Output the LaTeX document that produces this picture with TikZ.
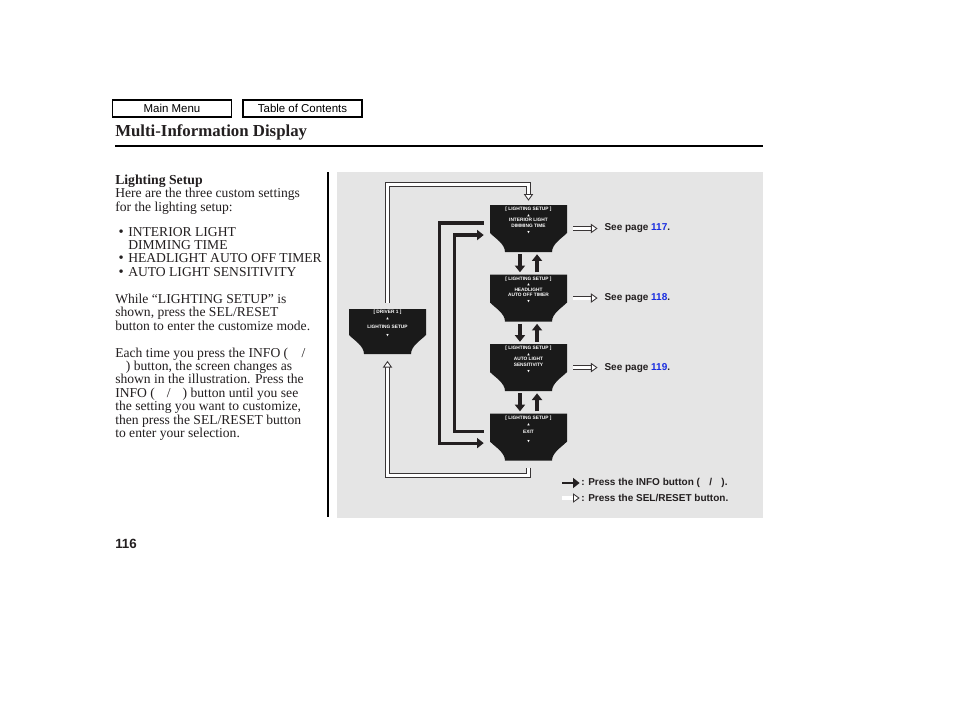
\documentclass[tikz,border=0pt]{standalone}
\usepackage{fontspec}
\usepackage{xcolor}
\usetikzlibrary{positioning,arrows.meta}
\setmainfont{Liberation Serif}
\setsansfont{Liberation Sans}
\newfontfamily\trifont{DejaVu Sans}
\definecolor{panel}{RGB}{229,229,229}
\definecolor{ink}{RGB}{35,31,32}
\definecolor{pageblue}{RGB}{25,45,225}
\definecolor{lcdblack}{RGB}{26,26,26}
\newcommand{\triup}{{\trifont\fontsize{2.4}{3}\selectfont ▲}}
\newcommand{\tridn}{{\trifont\fontsize{2.4}{3}\selectfont ▼}}
\newcommand{\scrtext}[1]{\parbox[c][32pt][t]{55pt}{\centering #1}}
\newcommand{\bul}{\hspace*{2.5pt}\makebox[7.25pt][l]{\fontsize{11}{10}\selectfont\textbullet}}
\tikzset{
  lcdscreen/.style={fill=panel, text=white, inner sep=0pt,
    minimum width=57.75pt, minimum height=35.25pt,
    font=\sffamily\bfseries\fontsize{3.6}{4.2}\selectfont,
    path picture={
      \fill[lcdblack] (path picture bounding box.north west)
        -- (path picture bounding box.north east)
        -- ([yshift=14.25pt]path picture bounding box.south east)
        .. controls +(-4pt,-4pt) and +(0,6pt) ..
        ([xshift=-11.25pt]path picture bounding box.south east)
        -- ([xshift=11.25pt]path picture bounding box.south west)
        .. controls +(0,6pt) and +(4pt,-4pt) ..
        ([yshift=14.25pt]path picture bounding box.south west)
        -- cycle;
    }},
  infoarrow/.style={draw=ink, line width=2.4pt, -{Triangle[length=5pt,width=7.5pt]}},
  selarrow/.style={draw=ink!90, line width=0.65pt, double=white, double distance=2.3pt,
    -{Triangle[open,fill=white,length=5pt,width=7pt,line width=0.65pt]}},
  seepage/.style={font=\sffamily\bfseries\fontsize{7.5}{9}\selectfont, text=ink, inner sep=0pt},
  menubox/.style={draw=black, line width=1.1pt, minimum width=89pt, minimum height=12.5pt,
    inner sep=0pt, font=\sffamily\fontsize{8.6}{10}\selectfont}
}
\begin{document}
\begin{tikzpicture}[x=0.75pt,y=-0.75pt]
    \useasboundingbox (0,0) rectangle (954,710);
    \fill[white] (0,0) rectangle (954,710);
    % Header
    \node[menubox] (mainmenu) at (172,108.5) {Main Menu};
    \node[menubox] (contents) at (302.5,108.5) {Table of Contents};
    \node[anchor=base west, inner sep=0pt, text=ink, font=\bfseries\fontsize{12.6}{14}\selectfont] (title) at (115,137) {Multi-Information Display};
    \draw[line width=0.8pt] (115,146) -- (763,146);
    % Left column
    \node[anchor=north west, inner sep=0pt, align=left, text=ink, font=\fontsize{10.2}{10.05}\selectfont] (intro) at (115,174.5) {%
      {\bfseries\fontsize{10.3}{10.05}\selectfont Lighting Setup}\\
      Here are the three custom settings\\
      for the lighting setup:\\[8.7pt]
      \bul INTERIOR LIGHT\\
      \hspace*{9.75pt}DIMMING TIME\\
      \bul HEADLIGHT AUTO OFF TIMER\\
      \bul AUTO LIGHT SENSITIVITY\\[10.2pt]
      While “LIGHTING SETUP” is\\
      shown, press the SEL/RESET\\
      button to enter the customize mode.\\[10.2pt]
      Each time you press the INFO (\hspace{10pt}/\\
      \hspace*{8pt}) button, the screen changes as\\
      shown in the illustration. Press the\\
      INFO (\hspace{9pt}/\hspace{9pt}) button until you see\\
      the setting you want to customize,\\
      then press the SEL/RESET button\\
      to enter your selection.};
    \draw[line width=0.8pt] (328,172) -- (328,517);
    % Illustration panel
    \fill[panel] (337,172) rectangle (763,518);
    % Screens
    \node[lcdscreen, minimum height=33.75pt] (drv) at (387.5,331.5) {\scrtext{[ DRIVER 1 ]\\[0.4pt]\triup\\[2pt]LIGHTING SETUP\\[2pt]\tridn}};
    \node[lcdscreen] (s1) at (528.5,228.5) {\scrtext{[ LIGHTING SETUP ]\\\triup\\INTERIOR LIGHT\\DIMMING TIME\\\tridn}};
    \node[lcdscreen, below=16.5pt of s1] (s2) {\scrtext{[ LIGHTING SETUP ]\\\triup\\HEADLIGHT\\AUTO OFF TIMER\\\tridn}};
    \node[lcdscreen, below=16.5pt of s2] (s3) {\scrtext{[ LIGHTING SETUP ]\\\triup\\AUTO LIGHT\\SENSITIVITY\\\tridn}};
    \node[lcdscreen, below=16.5pt of s3] (s4) {\scrtext{[ LIGHTING SETUP ]\\[0.6pt]\triup\\[2pt]EXIT\\[2pt]\tridn}};
    % Page references
    \node[seepage, right=27.75pt of s1] (p1) {See page \textcolor{pageblue}{117}.};
    \node[seepage, right=27.75pt of s2] (p2) {See page \textcolor{pageblue}{118}.};
    \node[seepage, right=27.75pt of s3] (p3) {See page \textcolor{pageblue}{119}.};
    \foreach \s/\p in {s1/p1,s2/p2,s3/p3}
        \draw[selarrow, shorten <=4.5pt, shorten >=5pt] (\s) -- (\p);
    % INFO steps
    \foreach \a/\b in {s1/s2,s2/s3,s3/s4}{
        \draw[infoarrow, shorten <=1.5pt, shorten >=1.5pt] ([xshift=-6.4pt]\a.south) -- ([xshift=-6.4pt]\b.north);
        \draw[infoarrow, shorten <=1.5pt, shorten >=1.5pt] ([xshift=6.4pt]\b.north) -- ([xshift=6.4pt]\a.south);
    }
    \draw[infoarrow, shorten <=4.5pt, shorten >=4.5pt] ([yshift=4.1pt]s1.west) -- ++(-50,0) |- ([yshift=-4.5pt]s4.west);
    \draw[infoarrow, shorten <=4.5pt, shorten >=4.5pt] ([yshift=4.5pt]s4.west) -- ++(-35,0) |- ([yshift=-4.9pt]s1.west);
    % SEL/RESET loop
    \draw[selarrow, shorten <=4.5pt, shorten >=3pt] (drv.north) |- ([yshift=15pt]s1.north) -- (s1.north);
    \draw[selarrow, shorten <=5pt, shorten >=5pt] (s4.south) -- ++(0,15) -| (drv.south);
    % Legend
    \node[seepage, anchor=west] (lg1) at (581,483) {: Press the INFO button (\hspace{7pt}/\hspace{7pt}).};
    \node[seepage, anchor=west] (lg2) at (581,498) {: Press the SEL/RESET button.};
    \coordinate (k1) at (562,483);
    \coordinate (k2) at (562,498);
    \draw[infoarrow, line width=2pt, shorten >=1pt] (k1) -- (lg1.west);
    \draw[selarrow, shorten >=1pt] (k2) -- (lg2.west);
    % Page number
    \node[anchor=west, inner sep=0pt, text=ink, font=\sffamily\bfseries\fontsize{10}{12}\selectfont] (pageno) at (115,544) {116};
\end{tikzpicture}
\end{document}
